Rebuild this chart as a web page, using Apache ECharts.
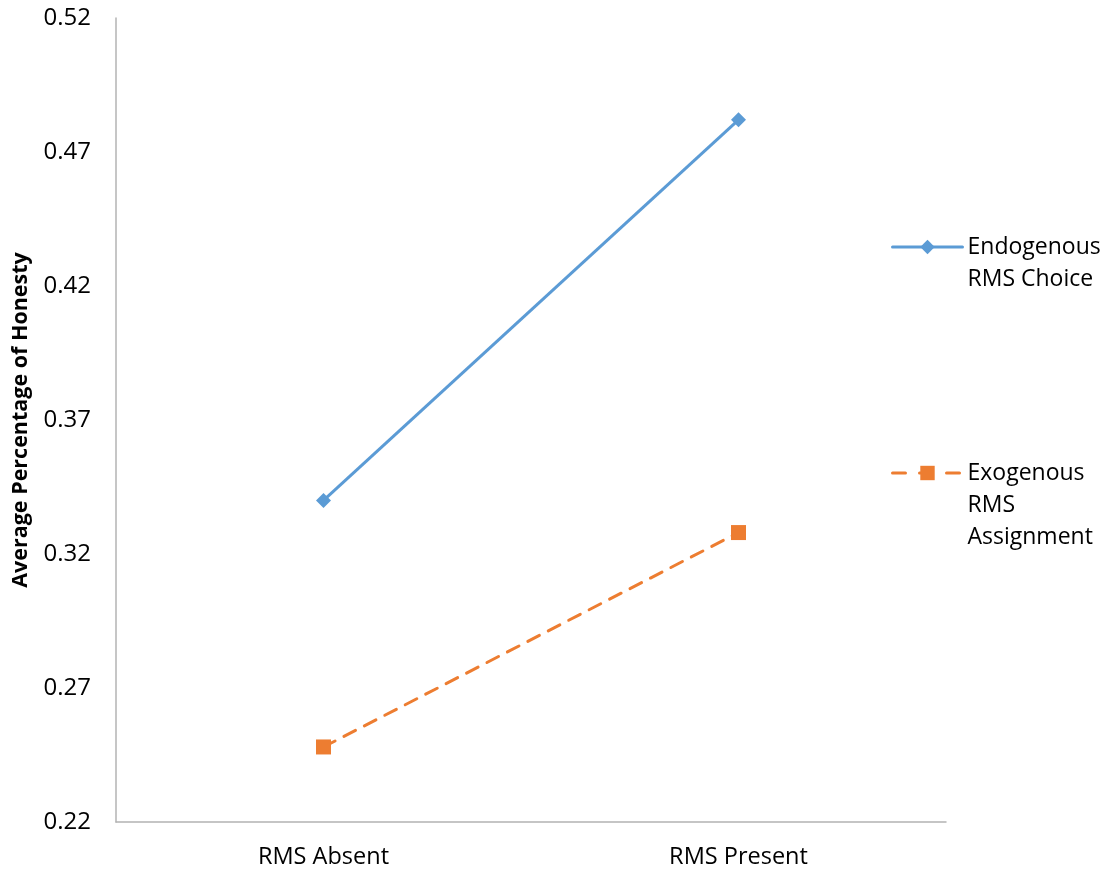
<!DOCTYPE html>
<html>
<head>
<meta charset="utf-8">
<script src="https://cdn.jsdelivr.net/npm/echarts@6/dist/echarts.min.js"></script>
<style>
  html, body { margin: 0; padding: 0; background: #ffffff; }
  #chart { width: 1111px; height: 873px; }
</style>
</head>
<body>
<div id="chart"></div>
<script>
// Conditions on the x axis
const categories = ['RMS Absent', 'RMS Present'];

// Average share of honest reports per treatment
const endogenousValues = [0.340, 0.482];
const exogenousValues = [0.248, 0.328];

// Value-axis ticks
const yTicks = [0.22, 0.27, 0.32, 0.37, 0.42, 0.47, 0.52];

const seriesNames = ['Endogenous\nRMS Choice', 'Exogenous\nRMS\nAssignment'];

const FONT = '"Open Sans", "Noto Sans", sans-serif';
const BLUE = '#5B9BD5';
const ORANGE = '#ED7D31';
const LINE_H = 32;

// One legend per series; leading blank lines keep the first text line level with the icon
function legendFor(name, iconCenterY, lineType) {
  const lines = name.split('\n').length;
  const blockLines = 2 * lines - 1;
  return {
    data: [name],
    orient: 'vertical',
    left: 891,
    top: iconCenterY - (blockLines * LINE_H) / 2,
    padding: 0,
    itemWidth: 70,
    itemHeight: 18,
    itemGap: 0,
    selectedMode: false,
    lineStyle: { width: 3, type: lineType, cap: 'round' },
    formatter: n => '\n'.repeat(lines - 1) + n,
    textStyle: {
      fontFamily: FONT,
      fontSize: 23,
      color: '#000000',
      lineHeight: LINE_H
    }
  };
}

const chart = echarts.init(document.getElementById('chart'), null, { renderer: 'canvas' });

chart.setOption({
  animation: false,
  backgroundColor: '#ffffff',
  grid: { left: 116, top: 18, width: 830, height: 804, containLabel: false },
  legend: [
    legendFor(seriesNames[0], 247, 'solid'),
    legendFor(seriesNames[1], 473, [13, 14])
  ],
  xAxis: {
    type: 'category',
    data: categories,
    boundaryGap: true,
    axisLine: { show: true, lineStyle: { color: '#b3b3b3', width: 1.5 } },
    axisTick: { show: false },
    axisLabel: { fontFamily: FONT, fontSize: 23.5, color: '#000000', margin: 23 },
    splitLine: { show: false }
  },
  yAxis: {
    type: 'value',
    min: yTicks[0],
    max: yTicks[yTicks.length - 1],
    name: 'Average Percentage of Honesty',
    nameLocation: 'middle',
    nameGap: 84,
    nameRotate: 90,
    nameTextStyle: { fontFamily: FONT, fontSize: 21.5, fontWeight: 'bold', color: '#000000' },
    axisLine: { show: true, lineStyle: { color: '#b3b3b3', width: 1.5 } },
    axisTick: { show: false },
    axisLabel: {
      customValues: yTicks,
      fontFamily: FONT,
      fontSize: 24,
      color: '#000000',
      margin: 25,
      formatter: v => v.toFixed(2)
    },
    splitLine: { show: false }
  },
  series: [
    {
      name: seriesNames[0],
      type: 'line',
      data: endogenousValues,
      symbol: 'diamond',
      symbolSize: 15,
      color: BLUE,
      itemStyle: { color: BLUE },
      lineStyle: { color: BLUE, width: 3 }
    },
    {
      name: seriesNames[1],
      type: 'line',
      data: exogenousValues,
      symbol: 'rect',
      symbolSize: 15,
      color: ORANGE,
      itemStyle: { color: ORANGE },
      lineStyle: { color: ORANGE, width: 3, type: [13, 10], cap: 'round' }
    }
  ]
});
</script>
</body>
</html>
